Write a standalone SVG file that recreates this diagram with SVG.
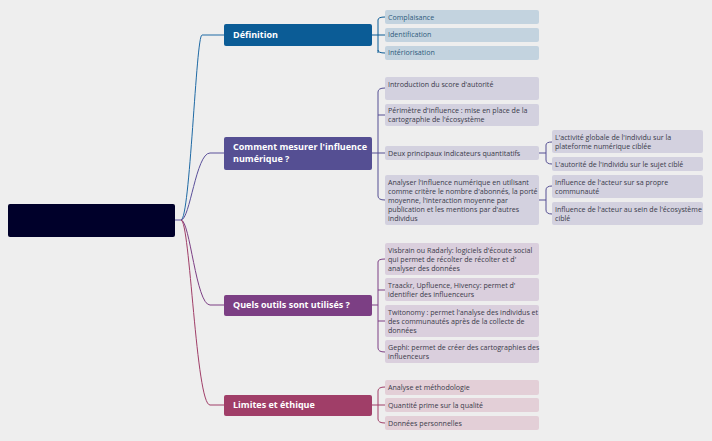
<svg xmlns="http://www.w3.org/2000/svg" width="712" height="441" viewBox="0 0 712 441">
<style>
text{font-family:"Open Sans","Liberation Sans",sans-serif}
.b{font-size:9px;font-weight:bold;fill:#fff}
.l{font-size:7.1px;fill:#3a3a4a}
.l1{fill:#2f5b7c}
.c{fill:none;stroke-width:1}
</style>
<rect width="712" height="441" fill="#eeeeee"/>
<g id="connectors">
<path class="c" stroke="#1f6aa5" d="M181,220 C190,220 196,35 202,35 H224"/>
<path class="c" stroke="#5a509a" d="M175,220 H181 C190,220 196,153 210,153 H224"/>
<path class="c" stroke="#7c3f84" d="M181,220 C190,220 196,305 210,305 H224"/>
<path class="c" stroke="#a03e68" d="M181,220 C190,220 196,405 210,405 H224"/>
<g stroke="#0b5c96" class="c"><path d="M372,35 H378 M378,20 V53 M378,20 Q378,17 385,17 M378,35 H385 M378,50 Q378,53 385,53"/></g>
<g stroke="#554f93" class="c"><path d="M372,153 H378 M378,92 V196 M378,92 Q378,88 385,88 M378,115 H385 M378,153 H385 M378,196 Q378,200 385,200"/>
<path d="M539,153 H546 M546,145 V160 M546,145 Q546,142 552,142 M546,160 Q546,164 552,164"/>
<path d="M539,200 H546 M546,190 V210 M546,190 Q546,186 552,186 M546,210 Q546,214 552,214"/></g>
<g stroke="#7c3f84" class="c"><path d="M372,305 H378 M378,262 V348 M378,262 Q378,259 385,259 M378,290 H385 M378,321 H385 M378,348 Q378,352 385,352"/></g>
<g stroke="#a03e68" class="c"><path d="M372,405 H378 M378,391 V419 M378,391 Q378,387 385,387 M378,405 H385 M378,419 Q378,423 385,423"/></g>
</g>
<g id="root"><rect x="8" y="204" width="167" height="33" rx="2" fill="#00002a"/></g>
<g id="b1"><rect x="224" y="24" width="148" height="22" rx="2" fill="#0b5c96"/><text class="b" x="233" y="38">Définition</text></g>
<g id="b2"><rect x="224" y="137" width="148" height="33" rx="2" fill="#554f93"/><text class="b" x="233" y="150">Comment mesurer l'influence</text><text class="b" x="233" y="162">numérique ?</text></g>
<g id="b3"><rect x="224" y="295" width="148" height="21" rx="2" fill="#7c3f84"/><text class="b" x="233" y="308">Quels outils sont utilisés ?</text></g>
<g id="b4"><rect x="224" y="395" width="148" height="21" rx="2" fill="#a03e68"/><text class="b" x="233" y="408">Limites et éthique</text></g>
<g fill="#c3d3df">
<g id="d1"><rect x="385" y="10" width="154" height="14" rx="2"/><text class="l l1" x="388" y="20">Complaisance</text></g>
<g id="d2"><rect x="385" y="28" width="154" height="14" rx="2"/><text class="l l1" x="388" y="37">Identification</text></g>
<g id="d3"><rect x="385" y="46" width="154" height="14" rx="2"/><text class="l l1" x="388" y="55">Intériorisation</text></g>
</g>
<g fill="#d3d1df">
<g id="c1"><rect x="385" y="77" width="154" height="23" rx="2"/><text class="l" x="388" y="87">Introduction du score d'autorité</text></g>
<g id="c2"><rect x="385" y="104" width="154" height="22" rx="2"/><text class="l" x="388" y="113">Périmètre d'influence : mise en place de la</text><text class="l" x="388" y="122">cartographie de l'écosystème</text></g>
<g id="c3"><rect x="385" y="146" width="154" height="14" rx="2"/><text class="l" x="388" y="156">Deux principaux indicateurs quantitatifs</text></g>
<g id="c4"><rect x="385" y="175" width="154" height="50" rx="2"/><text class="l" x="388" y="185">Analyser l'influence numérique en utilisant</text><text class="l" x="388" y="194">comme critère le nombre d'abonnés, la porté</text><text class="l" x="388" y="203">moyenne, l'interaction moyenne par</text><text class="l" x="388" y="212">publication et les mentions par d'autres</text><text class="l" x="388" y="221">individus</text></g>
<g id="c31"><rect x="552" y="130" width="151" height="23" rx="2"/><text class="l" x="555" y="140">L'activité globale de l'individu sur la</text><text class="l" x="555" y="149">plateforme numérique ciblée</text></g>
<g id="c32"><rect x="552" y="157" width="151" height="14" rx="2"/><text class="l" x="555" y="167">L'autorité de l'individu sur le sujet ciblé</text></g>
<g id="c41"><rect x="552" y="175" width="151" height="23" rx="2"/><text class="l" x="555" y="185">Influence de l'acteur sur sa propre</text><text class="l" x="555" y="194">communauté</text></g>
<g id="c42"><rect x="552" y="202" width="151" height="23" rx="2"/><text class="l" x="555" y="212">Influence de l'acteur au sein de l'écosystème</text><text class="l" x="555" y="221">ciblé</text></g>
</g>
<g fill="#dacfdd">
<g id="q1"><rect x="385" y="243" width="154" height="32" rx="2"/><text class="l" x="388" y="253">Visbrain ou Radarly: logiciels d'écoute social</text><text class="l" x="388" y="262">qui permet de récolter de récolter et d'</text><text class="l" x="388" y="271">analyser des données</text></g>
<g id="q2"><rect x="385" y="278" width="154" height="23" rx="2"/><text class="l" x="388" y="288">Traackr, Upfluence, Hivency: permet d'</text><text class="l" x="388" y="297">identifier des influenceurs</text></g>
<g id="q3"><rect x="385" y="305" width="154" height="32" rx="2"/><text class="l" x="388" y="315">Twitonomy : permet l'analyse des individus et</text><text class="l" x="388" y="324">des communautés après de la collecte de</text><text class="l" x="388" y="333">données</text></g>
<g id="q4"><rect x="385" y="340" width="154" height="23" rx="2"/><text class="l" x="388" y="350">Gephi: permet de créer des cartographies des</text><text class="l" x="388" y="359">influenceurs</text></g>
</g>
<g fill="#e3cfd7">
<g id="e1"><rect x="385" y="380" width="154" height="15" rx="2"/><text class="l" x="388" y="390">Analyse et méthodologie</text></g>
<g id="e2"><rect x="385" y="398" width="154" height="14" rx="2"/><text class="l" x="388" y="408">Quantité prime sur la qualité</text></g>
<g id="e3"><rect x="385" y="416" width="154" height="14" rx="2"/><text class="l" x="388" y="426">Données personnelles</text></g>
</g>
</svg>
